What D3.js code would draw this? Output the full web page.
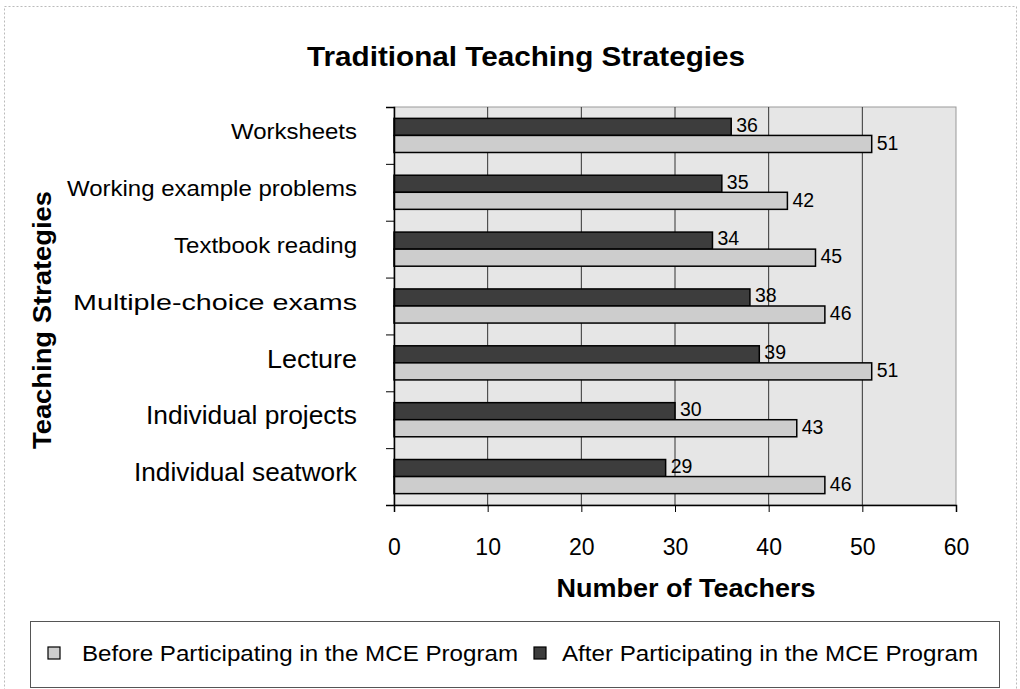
<!DOCTYPE html>
<html>
<head>
<meta charset="UTF-8">
<title>Traditional Teaching Strategies</title>
<script src="https://d3js.org/d3.v7.min.js"></script>
<style>
body { margin: 0; background: #fff; }
svg text { font-family: Arial, "Liberation Sans", sans-serif; fill: #000; }
</style>
</head>
<body>
<svg id="chart" width="1020" height="689"></svg>
<script>
// data, top to bottom
const categories = ["Worksheets", "Working example problems", "Textbook reading", "Multiple-choice exams", "Lecture", "Individual projects", "Individual seatwork"];
const seriesNames = ["Before Participating in the MCE Program", "After Participating in the MCE Program"];
const before = [51, 42, 45, 46, 51, 43, 46];
const after = [36, 35, 34, 38, 39, 30, 29];
const xTicks = [0, 10, 20, 30, 40, 50, 60];

// label look (the scan is a bit wider than plain Arial, so widths are fitted)
const labelSizes = [22, 22, 22, 21.5, 25, 25, 25];
const labelWidths = [126, 290, 183, 284, 90, 211, 223];

const svg = d3.select("#chart");
const plot = {left: 394, right: 956, top: 107, bottom: 505};
const colBefore = "#cdcdcd", colAfter = "#3d3d3d";

function fit(sel, w) {
    return sel.attr("textLength", w).attr("lengthAdjust", "spacingAndGlyphs");
}

// outer frame
svg.append("rect")
    .attr("x", 4.5).attr("y", 6.5).attr("width", 1012).attr("height", 690)
    .attr("fill", "none").attr("stroke", "#bbb").attr("stroke-dasharray", "2,2");

svg.append("text")
    .attr("x", 526).attr("y", 66)
    .attr("text-anchor", "middle")
    .attr("font-size", 28).attr("font-weight", "bold")
    .text("Traditional Teaching Strategies")
    .call(fit, 438);

let x = d3.scaleLinear().domain([0, 60]).range([plot.left, plot.right]);
let y = d3.scaleBand().domain(categories).range([plot.top, plot.bottom])
    .paddingInner(0.4).paddingOuter(0.2);
let sub = d3.scaleBand().domain(["after", "before"]).range([0, y.bandwidth()]);

// plot background
svg.append("rect")
    .attr("x", plot.left).attr("y", plot.top)
    .attr("width", plot.right - plot.left).attr("height", plot.bottom - plot.top)
    .attr("fill", "#e6e6e6").attr("stroke", "#999").attr("stroke-width", 1);

// gridlines
svg.append("g").selectAll("line")
    .data(xTicks.slice(1, -1))
    .enter().append("line")
    .attr("x1", d => x(d)).attr("x2", d => x(d))
    .attr("y1", plot.top).attr("y2", plot.bottom)
    .attr("stroke", "#333").attr("stroke-width", 1);

// bars
const rows = categories.map((c, i) => ({cat: c, before: before[i], after: after[i]}));
const groups = svg.append("g").selectAll("g")
    .data(rows).enter().append("g")
    .attr("transform", d => "translate(0," + y(d.cat) + ")");

groups.append("rect")
    .attr("x", x(0)).attr("y", sub("after"))
    .attr("width", d => x(d.after) - x(0)).attr("height", sub.bandwidth())
    .attr("fill", colAfter).attr("stroke", "#000").attr("stroke-width", 1.5);

groups.append("rect")
    .attr("x", x(0)).attr("y", sub("before"))
    .attr("width", d => x(d.before) - x(0)).attr("height", sub.bandwidth())
    .attr("fill", colBefore).attr("stroke", "#000").attr("stroke-width", 1.5);

groups.append("text")
    .attr("x", d => x(d.after) + 5).attr("y", sub("after") + sub.bandwidth() / 2 - 2)
    .attr("dy", "0.35em").attr("font-size", 19.5)
    .text(d => d.after);

groups.append("text")
    .attr("x", d => x(d.before) + 5).attr("y", sub("before") + sub.bandwidth() / 2 - 1)
    .attr("dy", "0.35em").attr("font-size", 19.5)
    .text(d => d.before);

// y axis
svg.append("g")
    .attr("transform", "translate(" + plot.left + ",0)")
    .call(d3.axisLeft(d3.scaleLinear().domain([0, categories.length]).range([plot.top, plot.bottom]))
        .ticks(categories.length).tickSize(8).tickFormat(""))
    .call(g => g.select(".domain").attr("stroke", "#000").attr("stroke-width", 1.5));

svg.append("g").selectAll("text")
    .data(categories).enter().append("text")
    .attr("x", 357)
    .attr("y", d => y(d) + y.bandwidth() / 2 - 4)
    .attr("dy", "0.35em")
    .attr("text-anchor", "end")
    .attr("font-size", (d, i) => labelSizes[i])
    .attr("textLength", (d, i) => labelWidths[i])
    .attr("lengthAdjust", "spacingAndGlyphs")
    .text(d => d);

// x axis
const xAxis = svg.append("g")
    .attr("transform", "translate(0," + plot.bottom + ")")
    .call(d3.axisBottom(x).tickValues(xTicks).tickSize(7).tickPadding(27));
xAxis.select(".domain").attr("stroke", "#000").attr("stroke-width", 1.5);
xAxis.selectAll("text").attr("font-size", 23).attr("font-family", "Arial, 'Liberation Sans', sans-serif");

svg.append("text")
    .attr("x", 686).attr("y", 597)
    .attr("text-anchor", "middle")
    .attr("font-size", 25).attr("font-weight", "bold")
    .text("Number of Teachers")
    .call(fit, 259);

svg.append("text")
    .attr("transform", "translate(51,320) rotate(-90)")
    .attr("text-anchor", "middle")
    .attr("font-size", 25).attr("font-weight", "bold")
    .text("Teaching Strategies")
    .call(fit, 258);

// legend
const legend = svg.append("g");
legend.append("rect")
    .attr("x", 30.5).attr("y", 621.5).attr("width", 969).attr("height", 66)
    .attr("fill", "#fff").attr("stroke", "#555").attr("stroke-width", 1);

const legItems = [
    {name: seriesNames[0], color: colBefore, sx: 48, tx: 82, w: 436},
    {name: seriesNames[1], color: colAfter, sx: 534, tx: 562, w: 416}
];
const li = legend.selectAll("g.item").data(legItems).enter().append("g").attr("class", "item");
li.append("rect")
    .attr("x", d => d.sx).attr("y", 647).attr("width", 12).attr("height", 12)
    .attr("fill", d => d.color).attr("stroke", "#000").attr("stroke-width", 1.2);
li.append("text")
    .attr("x", d => d.tx).attr("y", 653).attr("dy", "0.35em")
    .attr("font-size", 22)
    .attr("textLength", d => d.w).attr("lengthAdjust", "spacingAndGlyphs")
    .text(d => d.name);
</script>
</body>
</html>
